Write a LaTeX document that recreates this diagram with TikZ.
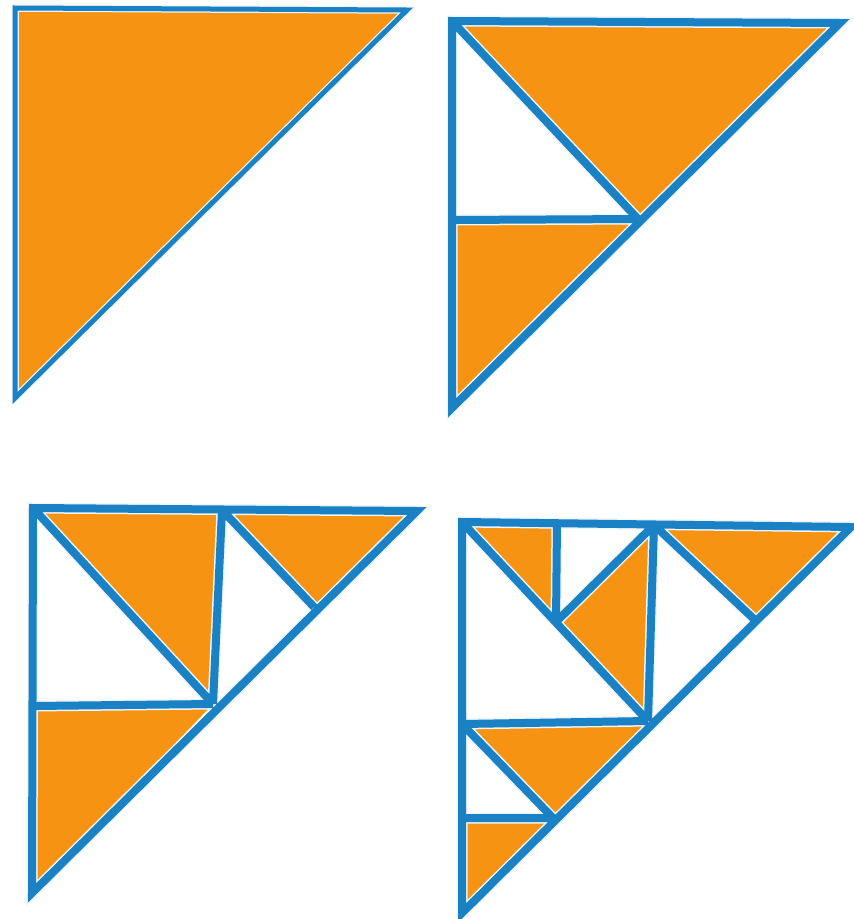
\documentclass[tikz,border=0pt]{standalone}
\definecolor{tri}{RGB}{247,147,18}
\definecolor{edge}{RGB}{27,129,197}
\definecolor{halo}{RGB}{236,246,252}
\begin{document}
\begin{tikzpicture}[x=1pt,y=-1pt,
  piece/.style={fill=tri},
  halo1/.style={draw=halo,line width=7.5pt,line join=miter,line cap=butt},
  bluel1/.style={draw=edge,line width=5pt,line join=miter,line cap=butt},
  halo2/.style={draw=halo,line width=11pt,line join=miter,line cap=butt},
  bluel2/.style={draw=edge,line width=8pt,line join=miter,line cap=butt}]
\useasboundingbox (0,0) rectangle (854,919);
\fill[white] (0,0) rectangle (854,919);
% ---------- triangle 1 ----------
\coordinate (a1) at (15,8);
\coordinate (b1) at (407,10);
\coordinate (c1) at (15,398);
\fill[piece] (a1) -- (b1) -- (c1) -- cycle;
\draw[halo1] (a1) -- (b1) -- (c1) -- cycle;
\draw[bluel1] (a1) -- (b1) -- (c1) -- cycle;
% ---------- triangle 2 ----------
\coordinate (a2) at (452,21);
\coordinate (b2) at (840,23);
\coordinate (c2) at (452,408);
\coordinate (m2) at (638,219);
\coordinate (h2) at (452,220);
\fill[piece] (a2) -- (b2) -- (m2) -- cycle;
\fill[piece] (h2) -- (m2) -- (c2) -- cycle;
\draw[halo2] (a2) -- (b2) -- (c2) -- cycle (a2) -- (m2) (h2) -- (m2);
\draw[bluel2] (a2) -- (b2) -- (c2) -- cycle (a2) -- (m2) (h2) -- (m2);
% ---------- triangle 3 ----------
\coordinate (a3) at (33,508);
\coordinate (b3) at (417,511);
\coordinate (c3) at (32,893);
\coordinate (m3) at (213,704);
\coordinate (h3) at (33,706);
\coordinate (v3) at (222,510);
\coordinate (n3) at (314,607);
\fill[piece] (a3) -- (v3) -- (m3) -- cycle;
\fill[piece] (v3) -- (b3) -- (n3) -- cycle;
\fill[piece] (h3) -- (m3) -- (c3) -- cycle;
\draw[halo2] (a3) -- (b3) -- (c3) -- cycle (a3) -- (m3) (h3) -- (m3) (v3) -- (m3) (v3) -- (n3);
\draw[bluel2] (a3) -- (b3) -- (c3) -- cycle (a3) -- (m3) (h3) -- (m3) (v3) -- (m3) (v3) -- (n3);
% ---------- triangle 4 ----------
\coordinate (a4) at (462,522);
\coordinate (b4) at (851,527);
\coordinate (c4) at (462,913);
\coordinate (m4) at (648,721);
\coordinate (h4) at (462,724);
\coordinate (v4) at (654,525);
\coordinate (n4) at (755,620);
\coordinate (u4) at (557,523);
\coordinate (p4) at (556,622);
\coordinate (q4) at (553,818);
\coordinate (k4) at (462,818);
\fill[piece] (a4) -- (u4) -- (p4) -- cycle;
\fill[piece] (v4) -- (m4) -- (p4) -- cycle;
\fill[piece] (v4) -- (b4) -- (n4) -- cycle;
\fill[piece] (h4) -- (m4) -- (q4) -- cycle;
\fill[piece] (k4) -- (q4) -- (c4) -- cycle;
\draw[halo2] (a4) -- (b4) -- (c4) -- cycle (a4) -- (m4) (h4) -- (m4) (v4) -- (m4) (v4) -- (n4)
  (u4) -- (p4) (v4) -- (p4) (h4) -- (q4) (k4) -- (q4);
\draw[bluel2] (a4) -- (b4) -- (c4) -- cycle (a4) -- (m4) (h4) -- (m4) (v4) -- (m4) (v4) -- (n4)
  (u4) -- (p4) (v4) -- (p4) (h4) -- (q4) (k4) -- (q4);
\end{tikzpicture}
\end{document}
